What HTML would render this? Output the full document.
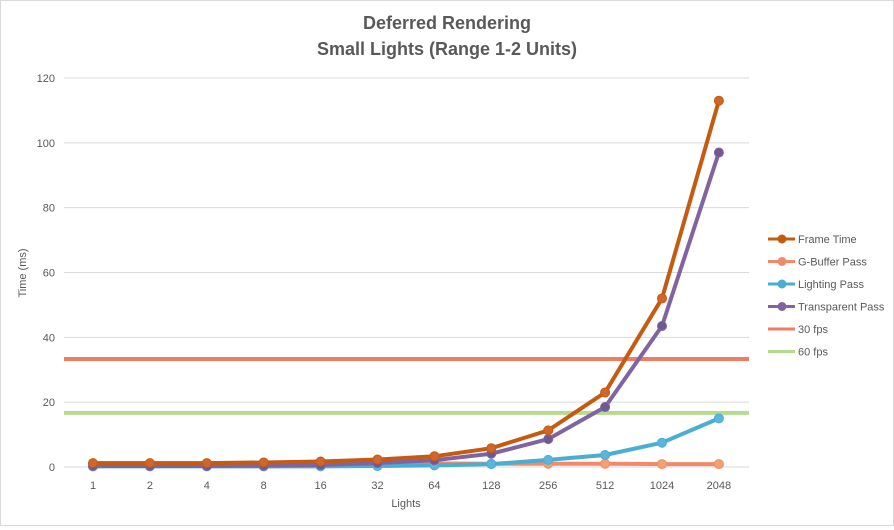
<!DOCTYPE html>
<html><head><meta charset="utf-8"><style>
body{margin:0;background:#fff;font-family:"Liberation Sans",sans-serif;}
#wrap{width:894px;height:526px;position:relative;border:1px solid #d9d9d9;box-sizing:border-box;}
</style></head><body>
<div id="wrap">
<svg id="chart" width="892" height="524"></svg>
</div>
<script>
const categories=["1","2","4","8","16","32","64","128","256","512","1024","2048"];
const frameTime=[1.2,1.2,1.2,1.4,1.7,2.3,3.3,5.8,11.3,23,52,113];
const gbufferPass=[1.1,1.1,1.1,1.1,1.1,1.1,1.1,1.0,1.0,1.0,0.9,0.9];
const lightingPass=[0.2,0.2,0.2,0.2,0.2,0.3,0.5,0.9,2.2,3.7,7.5,15];
const transparentPass=[0.3,0.3,0.3,0.4,0.6,1.2,2.1,4.1,8.6,18.5,43.5,97];
const fps30=33.3, fps60=16.7;
const yTicks=[0,20,40,60,80,100,120];
const NS="http://www.w3.org/2000/svg";
const svg=document.getElementById('chart');
const x0=92,dx=56.9,yZero=466,yTop=77,yMax=120,left=63,right=748;
const X=i=>x0+i*dx, Y=v=>yZero-(v/yMax)*(yZero-yTop);
function el(t,a,p){const e=document.createElementNS(NS,t);for(const k in a)e.setAttribute(k,a[k]);(p||svg).appendChild(e);return e;}
function txt(s,a){const e=el('text',a);e.textContent=s;return e;}
const t1=txt("Deferred Rendering",{x:446,y:28,'text-anchor':'middle','font-size':18,'font-weight':'bold',fill:'#595959'});

const t2=txt("Small Lights (Range 1-2 Units)",{x:446,y:54,'text-anchor':'middle','font-size':18,'font-weight':'bold',fill:'#595959'});

yTicks.forEach(v=>{
 const g=el('line',{x1:left,x2:right,y1:Y(v),y2:Y(v),stroke:'#d9d9d9','stroke-width':1});
 
 const l=txt(String(v),{x:54,y:Y(v)+4,'text-anchor':'end','font-size':11,fill:'#595959'});
 
});
categories.forEach((c,i)=>{
 const l=txt(c,{x:X(i),y:488,'text-anchor':'middle','font-size':11,fill:'#595959'});
 
});
const xt=txt("Lights",{x:405,y:506,'text-anchor':'middle','font-size':11,fill:'#595959'});

const yt=txt("Time (ms)",{x:0,y:0,'text-anchor':'middle','font-size':11,fill:'#595959',transform:'translate(25,272) rotate(-90)'});

// fps lines
[[fps30,'#ed7d64','fps-30-line'],[fps60,'#b5dc8e','fps-60-line']].forEach(([v,c,n])=>{
 const l=el('line',{x1:left,x2:right,y1:Y(v),y2:Y(v),stroke:c,'stroke-width':4});
 
});
const series=[[gbufferPass,'#f08a6a','#f4a070','gbuffer'],[lightingPass,'#4aaed3','#5bb5dd','lighting'],[transparentPass,'#8064a2','#6f5990','transparent'],[frameTime,'#c55a11','#d0662a','frame-time']];
series.forEach(([d,c,m,n])=>{
 const p=el('polyline',{points:d.map((v,i)=>X(i)+','+Y(v)).join(' '),fill:'none',stroke:c,'stroke-width':4,'stroke-linejoin':'round'});
 
 d.forEach((v,i)=>{const ci=el('circle',{cx:X(i),cy:Y(v),r:4.5,fill:m,stroke:c,'stroke-width':1});
 });
});
const leg=[['Frame Time','#c55a11',true],['G-Buffer Pass','#f08a6a',true],['Lighting Pass','#4aaed3',true],['Transparent Pass','#8064a2',true],['30 fps','#ed7d64',false],['60 fps','#b5dc8e',false]];
leg.forEach(([s,c,mk],i)=>{
 const y=238+i*22.5;
 const g=el('g',{});
 el('line',{x1:767,x2:794,y1:y,y2:y,stroke:c,'stroke-width':3},g);
 if(mk)el('circle',{cx:781,cy:y,r:4,fill:c,stroke:c},g);
 const t=el('text',{x:797,y:y+4,'font-size':11,fill:'#595959'},g);t.textContent=s;
});
</script>
</body></html>
